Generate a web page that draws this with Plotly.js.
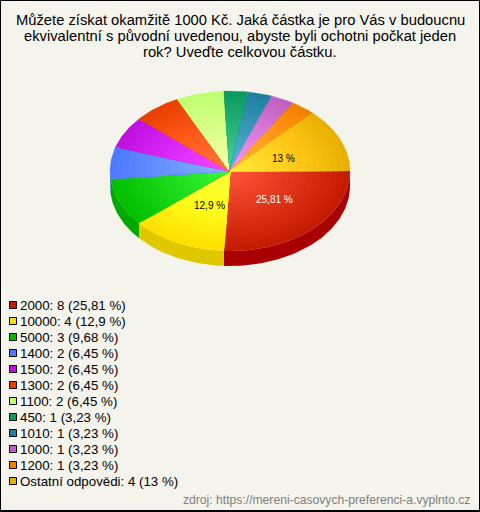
<!DOCTYPE html>
<html><head><meta charset="utf-8">
<script src="https://cdn.plot.ly/plotly-3.0.1.min.js"></script>
<style>html,body{margin:0;padding:0;background:#f5f4ec}</style>
</head><body><div id="chart" style="width:480px;height:512px"></div>
<script>
const titleLines = ["Můžete získat okamžitě 1000 Kč. Jaká částka je pro Vás v budoucnu",
  "ekvivalentní s původní uvedenou, abyste byli ochotni počkat jeden",
  "rok? Uveďte celkovou částku."];
const categories = ["2000","10000","5000","1400","1500","1300","1100","450","1010","1000","1200","Ostatní odpovědi"];
const counts = [8,4,3,2,2,2,2,1,1,1,1,4];
const percentLabels = ["25,81 %","12,9 %","9,68 %","6,45 %","6,45 %","6,45 %","6,45 %","3,23 %","3,23 %","3,23 %","3,23 %","13 %"];
const colors = [[196,28,0],[255,224,0],[0,192,0],[77,121,255],[192,16,224],[232,64,0],[192,255,112],[12,154,96],[31,127,159],[192,96,192],[240,128,0],[232,176,0]];
const wallColors = ["#a80000","#e0c800","#00a800","#3a60d8","#a000c0","#c83000","#a0e050","#088048","#186880","#a050a0","#d07000","#c89800"];
const footer = "zdroj: https://mereni-casovych-preferenci-a.vyplnto.cz";

const cx = 230, cy = 171, rx = 120, ry = 80, depth = 15;
const rings = 20, lift = 60;
const total = counts.reduce((a,b)=>a+b,0);
const arc = (a,b,dy,s=1) => {
  const xs=[],ys=[], n=Math.max(2,Math.ceil(Math.abs(b-a)));
  for(let i=0;i<=n;i++){const t=(a+(b-a)*i/n)*Math.PI/180; xs.push(cx+s*rx*Math.cos(t)); ys.push(cy+dy+s*ry*Math.sin(t));}
  return [xs,ys];
};
const rgb = (c,k)=>"rgb("+c.map(v=>Math.min(255,Math.round(v+lift*k))).join(",")+")";
const traces=[]; const tops=[]; let acc=0;
categories.forEach((c,i)=>{
  const a=acc/total*360, b=(acc+counts[i])/total*360; acc+=counts[i];
  const w1=Math.min(b,180);
  if(a<180){
    const [x1,y1]=arc(a,w1,0), [x2,y2]=arc(w1,a,depth);
    traces.push({type:"scatter",mode:"lines",x:x1.concat(x2),y:y1.concat(y2),fill:"toself",fillcolor:wallColors[i],
      line:{width:0,color:wallColors[i]},hoverinfo:"skip",showlegend:false});
  }
  for(let k=0;k<rings;k++){
    const f=k/rings, col=rgb(colors[i],f);
    const [xa,ya]=arc(a,b,0,1-f);
    tops.push({type:"scatter",mode:"lines",name:c,x:[cx].concat(xa,[cx]),y:[cy].concat(ya,[cy]),fill:"toself",fillcolor:col,
      line:{width:0.3,color:col},text:c+": "+counts[i]+" ("+percentLabels[i]+")",hoverinfo:"text",showlegend:false});
  }
});
traces.push(...tops);
const legendTop=305, legendStep=16;
traces.push({type:"scatter",mode:"markers",x:categories.map(()=>13),y:categories.map((c,i)=>legendTop+i*legendStep),
  marker:{symbol:"square",size:7,color:colors.map(c=>rgb(c,0)),line:{color:"#000",width:1}},hoverinfo:"skip",showlegend:false});

const ann=[];
const F="'Liberation Sans',Arial,sans-serif";
titleLines.forEach((t,i)=>ann.push({x:240,y:20+i*16,xref:"x",yref:"y",text:t,showarrow:false,xanchor:"center",yanchor:"middle",font:{family:F,size:14.75,color:"#000"}}));
categories.forEach((c,i)=>ann.push({x:19.5,y:legendTop+i*legendStep,xref:"x",yref:"y",text:c+": "+counts[i]+" ("+percentLabels[i]+")",showarrow:false,xanchor:"left",yanchor:"middle",xshift:-2,font:{family:F,size:13.3,color:"#000"}}));
ann.push({x:472,y:500,xref:"x",yref:"y",text:footer,showarrow:false,xanchor:"right",yanchor:"middle",font:{family:F,size:12.15,color:"#808080"}});
[[0,274,199,"#fff"],[1,209.5,205.5,"#000"],[11,283,158,"#000"]].forEach(([i,x,y,col])=>ann.push({x,y,xref:"x",yref:"y",text:percentLabels[i],showarrow:false,xanchor:"center",yanchor:"middle",font:{family:F,size:10,color:col}}));

Plotly.newPlot("chart",traces,{
  width:480,height:512,margin:{l:0,r:0,t:0,b:0},paper_bgcolor:"#f5f4ec",plot_bgcolor:"#f5f4ec",showlegend:false,
  xaxis:{range:[0,480],visible:false,fixedrange:true},
  yaxis:{range:[512,0],visible:false,fixedrange:true},
  annotations:ann,
  shapes:[
    {type:"rect",xref:"x",yref:"y",x0:0.5,x1:479.5,y0:0.5,y1:511,line:{color:"#000",width:1},fillcolor:"rgba(0,0,0,0)"},
    {type:"rect",xref:"x",yref:"y",x0:0,x1:480,y0:510,y1:512,line:{width:0},fillcolor:"#000"}]
},{displayModeBar:false});
</script></body></html>
